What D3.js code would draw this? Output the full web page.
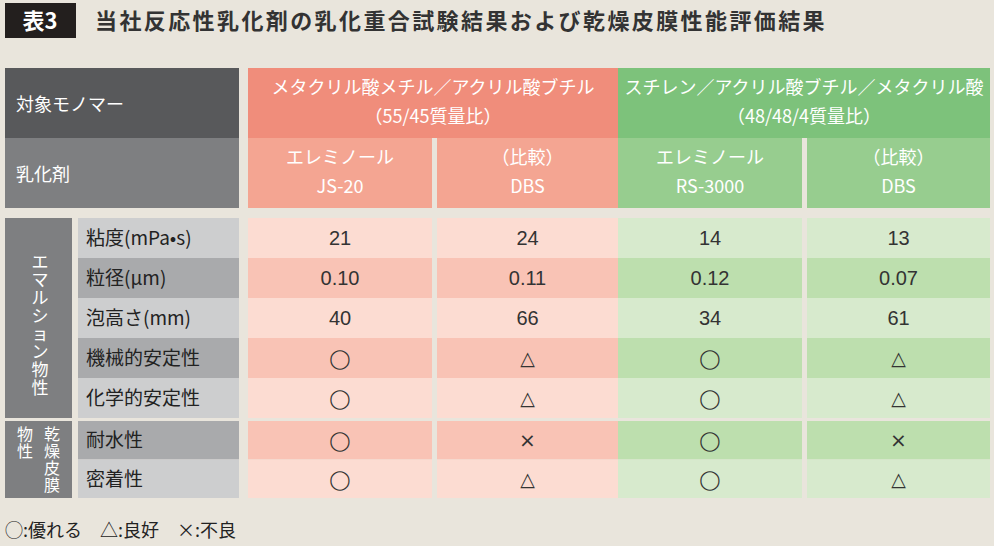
<!DOCTYPE html>
<html><head><meta charset="utf-8">
<script src="https://cdn.jsdelivr.net/npm/d3@7"></script>
<style>body{margin:0;background:#e9e5dc}svg{display:block;font-family:"Noto Sans CJK JP",sans-serif}</style>
</head><body>
<svg id="t" width="994" height="546"></svg>
<script>
const title = '当社反応性乳化剤の乳化重合試験結果および乾燥皮膜性能評価結果';
const monomers = ['メタクリル酸メチル／アクリル酸ブチル|（55/45質量比）', 'スチレン／アクリル酸ブチル／メタクリル酸|（48/48/4質量比）'];
const emulsifiers = ['エレミノール|JS-20', '（比較）|DBS', 'エレミノール|RS-3000', '（比較）|DBS'];
const props = ['粘度(mPa•s)', '粒径(μm)', '泡高さ(mm)', '機械的安定性', '化学的安定性', '耐水性', '密着性'];
const values = [
  ['21', '24', '14', '13'],
  ['0.10', '0.11', '0.12', '0.07'],
  ['40', '66', '34', '61'],
  ['◯', '△', '◯', '△'],
  ['◯', '△', '◯', '△'],
  ['◯', '×', '◯', '×'],
  ['◯', '△', '◯', '△']
];

const svg = d3.select('#t');
// title
svg.append('rect').attr('x', 5).attr('y', 3).attr('width', 71).attr('height', 35).attr('fill', '#231f1e');
svg.append('text').attr('x', 40).attr('y', 29).attr('text-anchor', 'middle').attr('fill', '#fff')
  .attr('font-size', 22).attr('font-weight', 'bold').text('表3');
svg.append('text').attr('x', 95).attr('y', 29).attr('fill', '#333').attr('font-size', 22)
  .attr('font-weight', 'bold').attr('letter-spacing', 2.4).text(title);

const cols = [[248, 432], [437, 618], [618, 802], [807, 990]];
const redL = '#fcdcd2', redD = '#f9c3b5', grnL = '#d7eacd', grnD = '#bddfae';

function lines(g, txt, cx, cy, size, fill, lh) {
  const parts = txt.split('|');
  parts.forEach((p, i) => g.append('text').attr('x', cx)
    .attr('y', cy + (i - (parts.length - 1) / 2) * lh + size * 0.36)
    .attr('text-anchor', 'middle').attr('font-size', size).attr('fill', fill).text(p));
}

// header
svg.append('rect').attr('x', 5).attr('y', 68).attr('width', 234).attr('height', 70).attr('fill', '#58595b');
svg.append('rect').attr('x', 5).attr('y', 138).attr('width', 234).attr('height', 70).attr('fill', '#7e7f81');
svg.append('text').attr('x', 16).attr('y', 111).attr('fill', '#fff').attr('font-size', 18).text('対象モノマー');
svg.append('text').attr('x', 16).attr('y', 181).attr('fill', '#fff').attr('font-size', 18).text('乳化剤');
monomers.forEach((m, i) => {
  const x0 = cols[i * 2][0], x1 = cols[i * 2 + 1][1];
  svg.append('rect').attr('x', x0).attr('y', 68).attr('width', x1 - x0).attr('height', 70)
    .attr('fill', i ? '#7dc27b' : '#f08d7b');
  lines(svg, m, (x0 + x1) / 2, 102, 18, '#fff', 29);
});
emulsifiers.forEach((e, i) => {
  const [x0, x1] = cols[i];
  svg.append('rect').attr('x', x0).attr('y', 138).attr('width', x1 - x0).attr('height', 70)
    .attr('fill', i < 2 ? '#f4a592' : '#97cd8f');
  lines(svg, e, (x0 + x1) / 2, 172, 18, '#fff', 29);
});
svg.append('rect').attr('x', 802).attr('y', 138).attr('width', 5).attr('height', 70).attr('fill', '#e9e5dc');

// body rows
const y = d3.scaleBand().domain(d3.range(5)).range([218, 418]);
const y2 = d3.scaleBand().domain(d3.range(5, 7)).range([421, 498]);
const ry = i => i < 5 ? y(i) : y2(i);
const rh = i => i < 5 ? y.bandwidth() : y2.bandwidth();

props.forEach((p, i) => {
  const dark = i % 2 === 1;
  svg.append('rect').attr('x', 78).attr('y', ry(i)).attr('width', 161).attr('height', rh(i))
    .attr('fill', dark ? '#a9aaac' : '#cdcecf');
  svg.append('text').attr('x', 86).attr('y', ry(i) + rh(i) / 2 + 7).attr('font-size', 19)
    .attr('fill', '#222').text(p);
  values[i].forEach((v, j) => {
    const [x0, x1] = cols[j];
    const sym = /[◯△×]/.test(v);
    svg.append('rect').attr('x', x0).attr('y', ry(i)).attr('width', x1 - x0).attr('height', rh(i))
      .attr('fill', j < 2 ? (dark ? redD : redL) : (dark ? grnD : grnL));
    svg.append('text').attr('x', (x0 + x1) / 2).attr('y', ry(i) + rh(i) / 2 + 7)
      .attr('text-anchor', 'middle')
      .attr('font-family', sym ? 'DejaVu Sans, sans-serif' : 'Liberation Sans, sans-serif')
      .attr('font-size', sym ? (v === '×' ? 20 : 19) : 20).attr('fill', '#333').text(v);
  });
});
svg.append('rect').attr('x', 802).attr('y', 218).attr('width', 5).attr('height', 280).attr('fill', '#e9e5dc').attr('opacity', 0.6);

// group cells
svg.append('rect').attr('x', 5).attr('y', 218).attr('width', 67).attr('height', 200).attr('fill', '#7e7f81');
svg.append('rect').attr('x', 5).attr('y', 421).attr('width', 67).attr('height', 77).attr('fill', '#7e7f81');
const vt = (str, x, y0, step, size) => Array.from(str).forEach((c, k) =>
  svg.append('text').attr('x', x).attr('y', y0 + k * step).attr('text-anchor', 'middle')
    .attr('font-size', size).attr('fill', '#fff').text(c));
vt('エマルション物性', 40, 268, 18, 17);
vt('乾燥皮膜', 52, 440, 17, 16);
vt('物性', 25, 440, 17, 16);

// legend
svg.append('text').attr('x', 5).attr('y', 537).attr('font-size', 18).attr('fill', '#222')
  .attr('xml:space', 'preserve').text('◯:優れる　△:良好　×:不良');
</script>
</body></html>
